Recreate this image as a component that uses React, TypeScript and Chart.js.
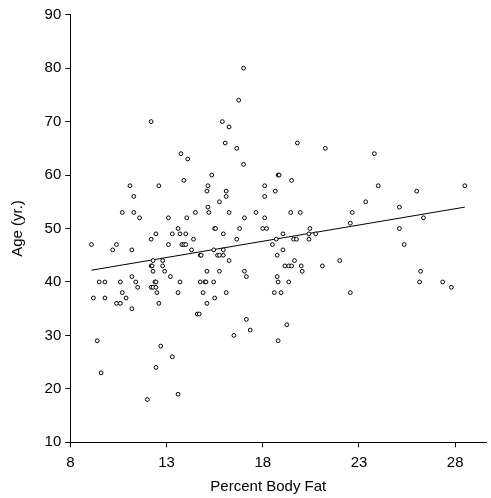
import React, { useEffect, useRef } from "react";
import { Chart, registerables } from "chart.js";

Chart.register(...registerables);

const bodyFat = [
  9.1, 9.2, 9.4, 9.5, 9.6, 9.8, 9.8, 10.2, 10.4, 10.4, 10.6, 10.6, 10.7, 10.7, 10.9,
  11.1, 11.2, 11.2, 11.2, 11.3, 11.3, 11.4, 11.5, 11.6, 12.0, 12.2, 12.2, 12.2, 12.25, 12.3,
  12.2, 12.3, 12.3, 12.4, 12.45, 12.45, 12.45, 12.45, 12.5, 12.6, 12.6, 12.7, 12.8, 12.8, 12.9,
  13.1, 13.1, 13.2, 13.3, 13.3, 13.6, 13.6, 13.6, 13.7, 13.7, 13.75, 13.8, 13.9, 13.9, 14.0,
  14.0, 14.05, 14.1, 14.3, 14.4, 14.5, 14.6, 14.7, 14.75, 14.75, 14.8, 14.9, 15.0, 15.05, 15.1,
  15.1, 15.1, 15.15, 15.15, 15.2, 15.35, 15.45, 15.45, 15.5, 15.55, 15.5, 15.65, 15.75, 15.75, 15.75,
  15.9, 15.95, 15.95, 15.95, 16.05, 16.1, 16.1, 16.1, 16.25, 16.25, 16.25, 16.5, 16.65, 16.65, 16.75,
  16.8, 17.0, 17.0, 17.05, 17.05, 17.15, 17.15, 17.35, 17.65, 18.0, 18.1, 18.1, 18.1, 18.2, 18.5,
  18.6, 18.65, 18.7, 18.75, 18.75, 18.8, 18.85, 18.8, 18.8, 18.95, 19.05, 19.05, 19.15, 19.25, 19.35,
  19.35, 19.45, 19.5, 19.5, 19.6, 19.65, 19.75, 19.8, 19.95, 20.0, 20.05, 20.4, 20.4, 20.45, 20.75,
  21.1, 21.25, 22.0, 22.55, 22.55, 22.65, 23.35, 23.8, 24.0, 25.1, 25.1, 25.35, 26.0, 26.15, 26.2,
  26.35, 27.35, 27.8, 28.5,
];

const age = [
  47, 37, 29, 40, 23, 37, 40, 46, 47, 36, 36, 40, 53, 38, 37,
  58, 46, 41, 35, 56, 53, 40, 39, 52, 18, 70, 48, 43, 43, 44,
  39, 42, 39, 40, 40, 39, 49, 24, 38, 58, 36, 28, 44, 43, 42,
  52, 47, 41, 26, 49, 50, 38, 19, 49, 40, 64, 47, 59, 47, 49,
  47, 52, 63, 46, 48, 53, 34, 34, 40, 45, 45, 38, 40, 40, 57,
  42, 36, 58, 54, 53, 60, 46, 40, 50, 50, 37, 45, 55, 42, 45,
  70, 49, 46, 45, 66, 57, 56, 38, 69, 53, 44, 30, 65, 48, 74,
  50, 80, 62, 52, 42, 41, 33, 31, 53, 50, 58, 56, 52, 50, 47,
  38, 57, 48, 45, 41, 60, 60, 40, 29, 38, 49, 46, 43, 32, 43,
  40, 53, 59, 43, 48, 44, 48, 66, 53, 43, 42, 48, 49, 50, 49,
  43, 65, 44, 51, 38, 53, 55, 64, 58, 54, 50, 47, 57, 40, 42,
  52, 40, 39, 58,
];

const fitX = [9.1, 28.5];
const fitY = [42.2, 54.0];

const xTicks = [8, 13, 18, 23, 28];
const yTicks = [10, 20, 30, 40, 50, 60, 70, 80, 90];

const xTitle = "Percent Body Fat";
const yTitle = "Age (yr.)";

const FAMILY = '"Liberation Sans", Arial, sans-serif';
const FONT_SIZE = 15;

const titlePlugin = {
  id: "axisTitles",
  afterDraw(chart: any) {
    const { ctx, chartArea } = chart;
    ctx.save();
    ctx.font = `${FONT_SIZE}px ${FAMILY}`;
    ctx.fillStyle = "#000";
    ctx.textAlign = "center";
    ctx.textBaseline = "alphabetic";
    ctx.fillText(xTitle, chartArea.left + 198, chartArea.bottom + 49);
    ctx.translate(chartArea.left - 48, (chartArea.top + chartArea.bottom) / 2);
    ctx.rotate(-Math.PI / 2);
    ctx.fillText(yTitle, 0, 0);
    ctx.restore();
  },
};

export default function App() {
  const ref = useRef<HTMLCanvasElement | null>(null);

  useEffect(() => {
    if (!ref.current) return;
    const points = bodyFat.map((x, i) => ({ x, y: age[i] }));
    const line = fitX.map((x, i) => ({ x, y: fitY[i] }));
    const chart = new Chart(ref.current, {
      type: "scatter",
      data: {
        datasets: [
          {
            data: points,
            pointRadius: 1.9,
            pointBorderWidth: 1,
            pointBorderColor: "#000",
            pointBackgroundColor: "#fff",
            showLine: false,
          },
          {
            data: line,
            showLine: true,
            pointRadius: 0,
            borderColor: "#000",
            borderWidth: 1,
          },
        ],
      },
      options: {
        animation: false,
        responsive: false,
        devicePixelRatio: 1,
        layout: { padding: { top: 14.7, right: 0, bottom: 0, left: 0 } },
        plugins: { legend: { display: false }, tooltip: { enabled: false } },
        scales: {
          x: {
            type: "linear",
            position: "bottom",
            min: 8,
            max: 29.6,
            border: { display: true, color: "#000", width: 1 },
            grid: { display: true, drawOnChartArea: false, drawTicks: true, tickLength: 5, color: "#000" },
            ticks: {
              color: "#000",
              font: { family: FAMILY, size: FONT_SIZE },
              padding: 7,
              maxRotation: 0,
              autoSkip: false,
            },
            afterBuildTicks: (s: any) => {
              s.ticks = xTicks.map((v) => ({ value: v }));
            },
            afterFit: (s: any) => {
              s.height = 55.7;
            },
          },
          y: {
            type: "linear",
            position: "left",
            min: 10,
            max: 90,
            border: { display: true, color: "#000", width: 1 },
            grid: { display: true, drawOnChartArea: false, drawTicks: true, tickLength: 5, color: "#000" },
            ticks: {
              color: "#000",
              font: { family: FAMILY, size: FONT_SIZE },
              padding: 4,
              autoSkip: false,
            },
            afterBuildTicks: (s: any) => {
              s.ticks = yTicks.map((v) => ({ value: v }));
            },
            afterFit: (s: any) => {
              s.width = 70.3;
            },
          },
        },
      },
      plugins: [titlePlugin],
    });
    return () => chart.destroy();
  }, []);

  return (
    <div style={{ position: "fixed", left: 0, top: 0, width: 491, height: 498, background: "#fff" }}>
      <canvas ref={ref} width={491} height={498} style={{ display: "block", width: 491, height: 498 }} />
    </div>
  );
}
